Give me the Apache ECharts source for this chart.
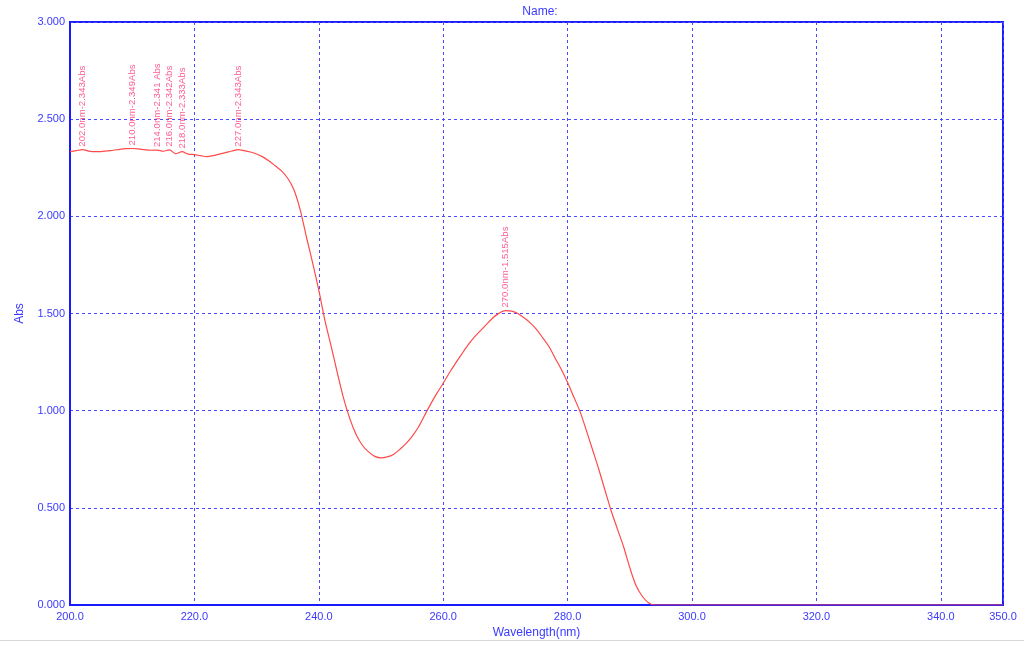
<!DOCTYPE html>
<html>
<head>
<meta charset="utf-8">
<script src="https://cdn.jsdelivr.net/npm/echarts@6/dist/echarts.min.js"></script>
<style>html,body{margin:0;padding:0;background:#fff;}#c{width:1024px;height:646px;}</style>
</head>
<body>
<div id="c"></div>
<script>
// Spectrum data (wavelength nm, absorbance)
const wavelengths = [200,201,202,203,204,205,206,207,208,209,210,211,212,213,214,215,216,217,218,219,220,221,222,223,224,225,226,227,228,229,230,231,232,233,234,235,236,237,238,239,240,241,242,243,244,245,246,247,248,249,250,251,252,253,254,255,256,257,258,259,260,261,262,263,264,265,266,267,268,269,270,271,272,273,274,275,276,277,278,279,280,281,282,283,284,285,286,287,288,289,290,291,292,293,294,300,320,340,350];
const absorbance = [2.333,2.338,2.343,2.336,2.333,2.333,2.337,2.340,2.345,2.348,2.349,2.347,2.343,2.340,2.341,2.335,2.342,2.322,2.333,2.320,2.318,2.312,2.307,2.312,2.320,2.328,2.336,2.343,2.338,2.331,2.321,2.306,2.285,2.260,2.234,2.196,2.137,2.035,1.895,1.762,1.620,1.462,1.330,1.192,1.062,0.958,0.877,0.822,0.788,0.765,0.757,0.762,0.775,0.800,0.830,0.868,0.915,0.975,1.035,1.090,1.141,1.195,1.245,1.292,1.338,1.378,1.412,1.445,1.478,1.502,1.515,1.512,1.500,1.478,1.452,1.418,1.375,1.330,1.270,1.212,1.145,1.070,0.995,0.900,0.800,0.700,0.592,0.485,0.392,0.300,0.192,0.100,0.045,0.012,0.000,0.000,0.000,0.000,0.000];
// Peak annotations
const peakWavelengths = [202.0,210.0,214.0,216.0,218.0,227.0,270.0];
const peakValues = [2.343,2.349,2.341,2.342,2.333,2.343,1.515];
const peakLabels = ['202.0nm-2.343Abs','210.0nm-2.349Abs','214.0nm-2.341 Abs','216.0nm-2.342Abs','218.0nm-2.333Abs','227.0nm-2.343Abs','270.0nm-1.515Abs'];
const xTitle = 'Wavelength(nm)';
const yTitle = 'Abs';
const chartTitle = 'Name:';

const blue = '#3a3aff';
const chart = echarts.init(document.getElementById('c'), null, {renderer:'canvas'});
const lineData = wavelengths.map((w,i)=>[w, absorbance[i]]);
const peakData = peakWavelengths.map((w,i)=>({value:[w, peakValues[i]], name: peakLabels[i]}));
chart.setOption({
  animation:false,
  backgroundColor:'#fff',
  title:{text:chartTitle,left:535,top:1,textAlign:'center',textStyle:{color:blue,fontSize:12,fontWeight:'normal',fontFamily:'Liberation Sans'}},
  grid:{left:70,right:21,top:22,bottom:41,show:true,borderColor:'#1a1aff',borderWidth:2,backgroundColor:'transparent'},
  xAxis:{type:'value',min:200,max:350,interval:20,
    name:xTitle,nameLocation:'middle',nameGap:21,
    nameTextStyle:{color:blue,fontSize:12,fontFamily:'Liberation Sans'},
    axisLine:{show:true,lineStyle:{color:'#1a1aff',width:2}},
    axisTick:{show:false},
    axisLabel:{color:blue,fontSize:11,fontFamily:'Liberation Sans',margin:6,formatter:v=>v.toFixed(1)},
    splitLine:{show:true,lineStyle:{color:'#4a4aff',type:[3,3],width:1}}},
  yAxis:{type:'value',min:0,max:3,interval:0.5,
    name:yTitle,nameLocation:'middle',nameGap:44,nameRotate:90,
    nameTextStyle:{color:blue,fontSize:12,fontFamily:'Liberation Sans'},
    axisLine:{show:true,lineStyle:{color:'#1a1aff',width:2}},
    axisTick:{show:false},
    axisLabel:{color:blue,fontSize:11,fontFamily:'Liberation Sans',margin:5,formatter:v=>v.toFixed(3)},
    splitLine:{show:true,lineStyle:{color:'#4a4aff',type:[3,3],width:1}}},
  graphic:[{type:'line',shape:{x1:0,y1:640.5,x2:1024,y2:640.5},style:{stroke:'#d8d8d8',lineWidth:1},silent:true}],
  series:[
    {type:'line',data:lineData,smooth:0.3,showSymbol:false,symbol:'none',
     lineStyle:{color:'#ff4a4a',width:1.2},z:3},
    {type:'scatter',data:peakData,symbolSize:0,z:4,
     label:{show:true,position:'top',distance:3,rotate:90,align:'left',verticalAlign:'middle',
       formatter:p=>p.name,color:'#ff3370',fontSize:9.6,fontFamily:'Liberation Sans'}}
  ]
});
</script>
</body>
</html>
